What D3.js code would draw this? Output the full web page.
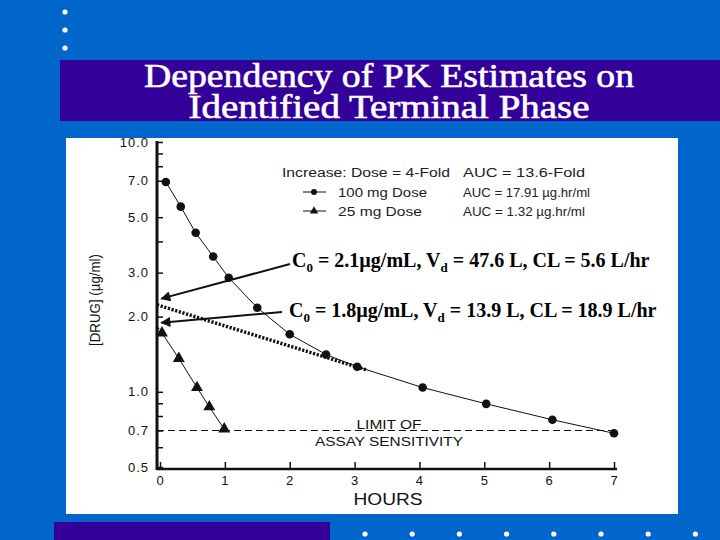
<!DOCTYPE html>
<html><head><meta charset="utf-8">
<script src="https://cdn.jsdelivr.net/npm/d3@7"></script>
<style>body{margin:0;background:#0066cc;} svg{display:block}</style>
</head><body><svg width="720" height="540"></svg>
<script>
const titleLines = ["Dependency of PK Estimates on", "Identified Terminal Phase"];
const hours100 = [0.09, 0.32, 0.55, 0.82, 1.06, 1.5, 2.0, 2.56, 3.04, 4.05, 5.03, 6.05, 7.0];
const conc100 = [6.92, 5.51, 4.33, 3.48, 2.86, 2.17, 1.70, 1.41, 1.26, 1.04, 0.895, 0.773, 0.682];
const hours25 = [0.03, 0.29, 0.57, 0.76, 0.99];
const conc25 = [1.72, 1.36, 1.04, 0.87, 0.71];
const terminalHours = [0, 3.2];
const terminalConc = [2.23, 1.22];
const assayLimit = 0.7;
const yTickValues = [10, 9, 8, 7, 5, 4, 3, 2, 1, 0.9, 0.8, 0.7, 0.6, 0.5];
const yTickLabels = {10: "10.0", 7: "7.0", 5: "5.0", 3: "3.0", 2: "2.0", 1: "1.0", 0.7: "0.7", 0.5: "0.5"};
const xTickValues = [0, 1, 2, 3, 4, 5, 6, 7];
const legendHeader = ["Increase: Dose = 4-Fold", "AUC = 13.6-Fold"];
const legendSeries = ["100 mg Dose", "25 mg Dose"];
const legendAUC = ["AUC = 17.91 µg.hr/ml", "AUC = 1.32 µg.hr/ml"];
const annotations = [
  {c0: "2.1", vd: "47.6", cl: "5.6", tipT: 0.02, tipC: 2.36},
  {c0: "1.8", vd: "13.9", cl: "18.9", tipT: 0.02, tipC: 1.89}
];
const limitLabel = ["LIMIT OF", "ASSAY SENSITIVITY"];

const svg = d3.select("svg");
const W = 720, H = 540;
svg.append("rect").attr("width", W).attr("height", H).attr("fill", "#0066cc");

// top-left bullet dots
[12, 30, 48].forEach(y => svg.append("circle").attr("cx", 65).attr("cy", y).attr("r", 2.6).attr("fill", "#fff"));
// title band
svg.append("rect").attr("x", 60).attr("y", 60).attr("width", 660).attr("height", 61).attr("fill", "#330099");
const titleWidths = [490, 401];
titleLines.forEach((t, i) => {
  svg.append("text").attr("x", 389).attr("y", 87 + i * 31)
    .attr("text-anchor", "middle").attr("fill", "#fff")
    .attr("font-family", "Liberation Serif, Times New Roman, serif")
    .attr("font-size", 33).attr("stroke", "#fff").attr("stroke-width", 0.6)
    .attr("textLength", titleWidths[i]).attr("lengthAdjust", "spacingAndGlyphs")
    .text(t);
});
// bottom band and dots
svg.append("rect").attr("x", 54).attr("y", 522).attr("width", 276).attr("height", 18).attr("fill", "#330099");
d3.range(8).forEach(i => svg.append("circle").attr("cx", 365 + i * 47.2).attr("cy", 534).attr("r", 2.6).attr("fill", "#fff"));

// white panel
svg.append("rect").attr("x", 66).attr("y", 138).attr("width", 612).attr("height", 376).attr("fill", "#fff");

const x = d3.scaleLinear().domain([0, 7]).range([160, 614]);
const y = d3.scaleLog().domain([0.5, 10]).range([467, 142]);
const ink = "#111";
const sans = "Liberation Sans, Arial, sans-serif";

// y axis
const yAxisX = 157;
svg.append("line").attr("x1", yAxisX).attr("x2", yAxisX).attr("y1", 141).attr("y2", 470)
  .attr("stroke", ink).attr("stroke-width", 3);
const yAxis = d3.axisRight(y).tickValues(yTickValues).tickSize(6).tickFormat(d => "");
const gy = svg.append("g").attr("transform", `translate(${yAxisX},0)`).call(yAxis);
gy.select(".domain").remove();
gy.selectAll(".tick line").attr("stroke", ink).attr("stroke-width", 1.5);
yTickValues.forEach(v => {
  if (yTickLabels[v]) {
    svg.append("text").attr("x", 149).attr("y", y(v) + 4.5).attr("text-anchor", "end")
      .attr("font-family", sans).attr("font-size", 13).attr("letter-spacing", 1).attr("fill", ink)
      .text(yTickLabels[v]);
  }
});

// x axis
svg.append("line").attr("x1", yAxisX).attr("x2", 617).attr("y1", 469).attr("y2", 469)
  .attr("stroke", ink).attr("stroke-width", 2.5);
const xAxis = d3.axisTop(x).tickValues(xTickValues).tickSize(7).tickFormat(d => "");
const gx = svg.append("g").attr("transform", "translate(0,469)").call(xAxis);
gx.select(".domain").remove();
gx.selectAll(".tick line").attr("stroke", ink).attr("stroke-width", 1.5);
xTickValues.forEach(v => {
  svg.append("text").attr("x", x(v)).attr("y", 485).attr("text-anchor", "middle")
    .attr("font-family", sans).attr("font-size", 13).attr("fill", ink).text(v);
});
svg.append("text").attr("x", 388).attr("y", 505).attr("text-anchor", "middle")
  .attr("font-family", sans).attr("font-size", 17).attr("fill", ink)
  .attr("textLength", 69).attr("lengthAdjust", "spacingAndGlyphs").text("HOURS");
svg.append("text").attr("transform", "translate(100,300) rotate(-90)").attr("text-anchor", "middle")
  .attr("font-family", sans).attr("font-size", 14).attr("fill", ink)
  .attr("textLength", 92).attr("lengthAdjust", "spacingAndGlyphs").text("[DRUG] (µg/ml)");

// assay limit dashed line
svg.append("line").attr("x1", yAxisX).attr("x2", x(7)).attr("y1", y(assayLimit)).attr("y2", y(assayLimit))
  .attr("stroke", ink).attr("stroke-width", 1.2).attr("stroke-dasharray", "7,4");
const limitWidths = [65, 148];
limitLabel.forEach((t, i) => {
  svg.append("text").attr("x", 389).attr("y", 429 + i * 16.5).attr("text-anchor", "middle")
    .attr("font-family", sans).attr("font-size", 13).attr("fill", ink)
    .attr("textLength", limitWidths[i]).attr("lengthAdjust", "spacingAndGlyphs").text(t);
});

// terminal phase dotted line
const line = d3.line().x(d => x(d[0])).y(d => y(d[1]));
const axisLine = d3.line().x(d => d[0] === 0 ? yAxisX : x(d[0])).y(d => y(d[1]));
svg.append("path").datum(d3.zip(terminalHours, terminalConc)).attr("d", axisLine)
  .attr("fill", "none").attr("stroke", ink).attr("stroke-width", 3.5).attr("stroke-dasharray", "2.2,1.6");
svg.append("path").datum([[0, 1.8], [hours25[0], conc25[0]]]).attr("d", axisLine)
  .attr("fill", "none").attr("stroke", ink).attr("stroke-width", 3).attr("stroke-dasharray", "2.2,1.6");

// series 100 mg
const d100 = d3.zip(hours100, conc100);
svg.append("path").datum(d100).attr("d", line).attr("fill", "none").attr("stroke", ink).attr("stroke-width", 1);
svg.selectAll(".c100").data(d100).enter().append("circle")
  .attr("cx", d => x(d[0])).attr("cy", d => y(d[1])).attr("r", 4.3).attr("fill", ink);
// series 25 mg
const d25 = d3.zip(hours25, conc25);
svg.append("path").datum(d25).attr("d", line).attr("fill", "none").attr("stroke", ink).attr("stroke-width", 1);
const tri = d3.symbol().type(d3.symbolTriangle).size(62);
svg.selectAll(".t25").data(d25).enter().append("path")
  .attr("transform", d => `translate(${x(d[0])},${y(d[1])})`).attr("d", tri).attr("fill", ink);

// legend
const legendFont = (sel) => sel.attr("font-family", sans).attr("font-size", 12.5).attr("fill", "#222").attr("lengthAdjust", "spacingAndGlyphs");
svg.append("text").attr("x", 282).attr("y", 177).call(legendFont).attr("textLength", 168).text(legendHeader[0]);
svg.append("text").attr("x", 463).attr("y", 177).call(legendFont).attr("textLength", 122).text(legendHeader[1]);
const seriesWidths = [89, 84];
const aucWidths = [127, 122];
legendSeries.forEach((s, i) => {
  const ly = 192 + i * 19;
  svg.append("line").attr("x1", 303).attr("x2", 326).attr("y1", ly).attr("y2", ly).attr("stroke", ink).attr("stroke-width", 1);
  if (i === 0) svg.append("circle").attr("cx", 314).attr("cy", ly).attr("r", 3).attr("fill", ink);
  else svg.append("path").attr("transform", `translate(314,${ly})`).attr("d", d3.symbol().type(d3.symbolTriangle).size(30)).attr("fill", ink);
  svg.append("text").attr("x", 338).attr("y", ly + 4.5).call(legendFont).attr("textLength", seriesWidths[i]).text(s);
  svg.append("text").attr("x", 463).attr("y", ly + 4.5).call(legendFont).attr("textLength", aucWidths[i]).text(legendAUC[i]);
});

// annotations
svg.append("defs").append("marker").attr("id", "ah").attr("viewBox", "0 0 10 10").attr("refX", 9).attr("refY", 5)
  .attr("markerWidth", 6).attr("markerHeight", 5).attr("markerUnits", "strokeWidth").attr("orient", "auto")
  .append("path").attr("d", "M0,0 L10,5 L0,10 Z").attr("fill", ink);
const annoPos = [{tx: 292, ty: 267, sx: 290, sy: 264}, {tx: 289, ty: 317, sx: 282, sy: 312}];
annotations.forEach((a, i) => {
  const p = annoPos[i];
  svg.append("line").attr("x1", p.sx).attr("y1", p.sy).attr("x2", x(a.tipT)).attr("y2", y(a.tipC))
    .attr("stroke", ink).attr("stroke-width", 2).attr("marker-end", "url(#ah)");
  const t = svg.append("text").attr("x", p.tx).attr("y", p.ty)
    .attr("font-family", "Liberation Serif, Times New Roman, serif").attr("font-weight", "bold").attr("font-size", 20).attr("fill", "#000");
  t.append("tspan").text("C");
  t.append("tspan").attr("font-size", 13).attr("dy", 5).text("0");
  t.append("tspan").attr("dy", -5).text(` = ${a.c0}µg/mL, V`);
  t.append("tspan").attr("font-size", 13).attr("dy", 5).text("d");
  t.append("tspan").attr("dy", -5).text(` = ${a.vd} L, CL = ${a.cl} L/hr`);
});
</script></body></html>
